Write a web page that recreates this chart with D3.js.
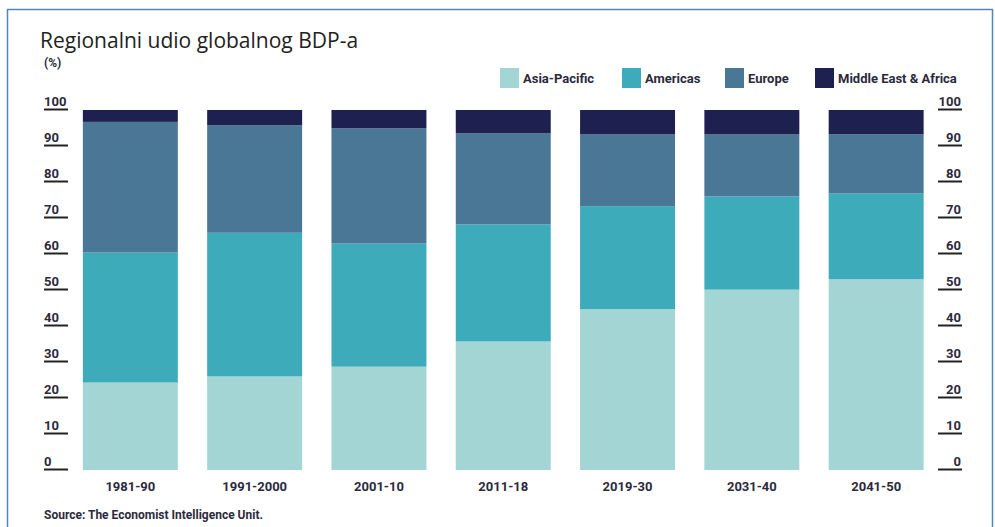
<!DOCTYPE html>
<html>
<head>
<meta charset="utf-8">
<script src="https://cdn.jsdelivr.net/npm/d3@7"></script>
<style>
body { margin: 0; background: #fff; }
svg text { fill: #2b2a3c; }
.tick-label, .x-label, .legend-label, .note { font-family: "Liberation Sans Narrow", "Roboto", sans-serif; font-weight: bold; }
</style>
</head>
<body>
<svg width="995" height="527"></svg>
<script>
var categories = ["1981-90", "1991-2000", "2001-10", "2011-18", "2019-30", "2031-40", "2041-50"];
var regions = ["Asia-Pacific", "Americas", "Europe", "Middle East & Africa"];
var asiaPacific = [24.3, 26.0, 28.7, 35.7, 44.7, 50.1, 53.0];
var americas = [36.1, 39.9, 34.2, 32.5, 28.6, 25.9, 23.8];
var europe = [36.3, 29.9, 32.0, 25.3, 19.9, 17.2, 16.5];
var middleEastAfrica = [3.3, 4.2, 5.1, 6.5, 6.8, 6.8, 6.7];
var yTicks = [0, 10, 20, 30, 40, 50, 60, 70, 80, 90, 100];
var colors = ["#a2d5d3", "#3eabbb", "#4a7796", "#1e2150"];

var svg = d3.select("svg");

// frame
svg.append("rect")
	.attr("x", 7.5)
	.attr("y", 9.5)
	.attr("width", 985)
	.attr("height", 540)
	.attr("fill", "none")
	.attr("stroke", "#4f86bf")
	.attr("stroke-width", 1.5);

var table = categories.map(function (c, i) {
	return {
		cat: c,
		"Asia-Pacific": asiaPacific[i],
		"Americas": americas[i],
		"Europe": europe[i],
		"Middle East & Africa": middleEastAfrica[i]
	};
});

var x = d3.scaleBand()
	.domain(categories)
	.range([58, 948.5])
	.paddingInner(0.236)
	.paddingOuter(0.2);

var y = d3.scaleLinear()
	.domain([0, 100])
	.range([470, 110]);

var color = d3.scaleOrdinal().domain(regions).range(colors);

var series = d3.stack().keys(regions)(table);

svg.append("g")
	.selectAll("g")
	.data(series)
	.join("g")
	.attr("fill", d => color(d.key))
	.selectAll("rect")
	.data(d => d)
	.join("rect")
	.attr("x", d => x(d.data.cat))
	.attr("y", d => y(d[1]))
	.attr("width", x.bandwidth())
	.attr("height", d => y(d[0]) - y(d[1]));

// y tick labels with underlines, both sides
var leftTicks = svg.append("g").selectAll("g").data(yTicks).join("g")
	.attr("transform", d => "translate(0," + y(d) + ")");
leftTicks.append("line")
	.attr("x1", 44).attr("x2", 68)
	.attr("y1", -0.5).attr("y2", -0.5)
	.attr("stroke", "#222").attr("stroke-width", 2);
leftTicks.append("text")
	.attr("class", "tick-label")
	.attr("x", 44)
	.attr("y", -4)
	.attr("font-size", 13)
	.text(d => d);

var rightTicks = svg.append("g").selectAll("g").data(yTicks).join("g")
	.attr("transform", d => "translate(0," + y(d) + ")");
rightTicks.append("line")
	.attr("x1", 938).attr("x2", 962)
	.attr("y1", -0.5).attr("y2", -0.5)
	.attr("stroke", "#222").attr("stroke-width", 2);
rightTicks.append("text")
	.attr("class", "tick-label")
	.attr("x", 961)
	.attr("y", -4)
	.attr("text-anchor", "end")
	.attr("font-size", 13)
	.text(d => d);

// x labels
var xAxis = d3.axisBottom(x).tickSize(0).tickPadding(12);
var xg = svg.append("g")
	.attr("transform", "translate(0,470)")
	.call(xAxis);
xg.select(".domain").remove();
xg.selectAll("text")
	.attr("class", "x-label")
	.attr("font-size", 13)
	.style("fill", "#2b2a3c");

// title
svg.append("text")
	.attr("x", 40)
	.attr("y", 48)
	.attr("font-family", "'Open Sans', sans-serif")
	.attr("font-size", 21)
	.style("fill", "#222")
	.text("Regionalni udio globalnog BDP-a");

svg.append("text")
	.attr("class", "note")
	.attr("x", 44)
	.attr("y", 67)
	.attr("font-size", 12)
	.text("(%)");

// legend
var legendX = [500, 622, 725, 815];
var legend = svg.append("g").selectAll("g").data(regions).join("g")
	.attr("transform", (d, i) => "translate(" + legendX[i] + ",68)");
legend.append("rect")
	.attr("width", 19)
	.attr("height", 20)
	.attr("fill", d => color(d));
legend.append("text")
	.attr("class", "legend-label")
	.attr("x", 23)
	.attr("y", 14.5)
	.attr("font-size", 13)
	.text(d => d);

svg.append("text")
	.attr("class", "note")
	.attr("x", 44)
	.attr("y", 519)
	.attr("font-size", 12)
	.text("Source: The Economist Intelligence Unit.");
</script>
</body>
</html>
